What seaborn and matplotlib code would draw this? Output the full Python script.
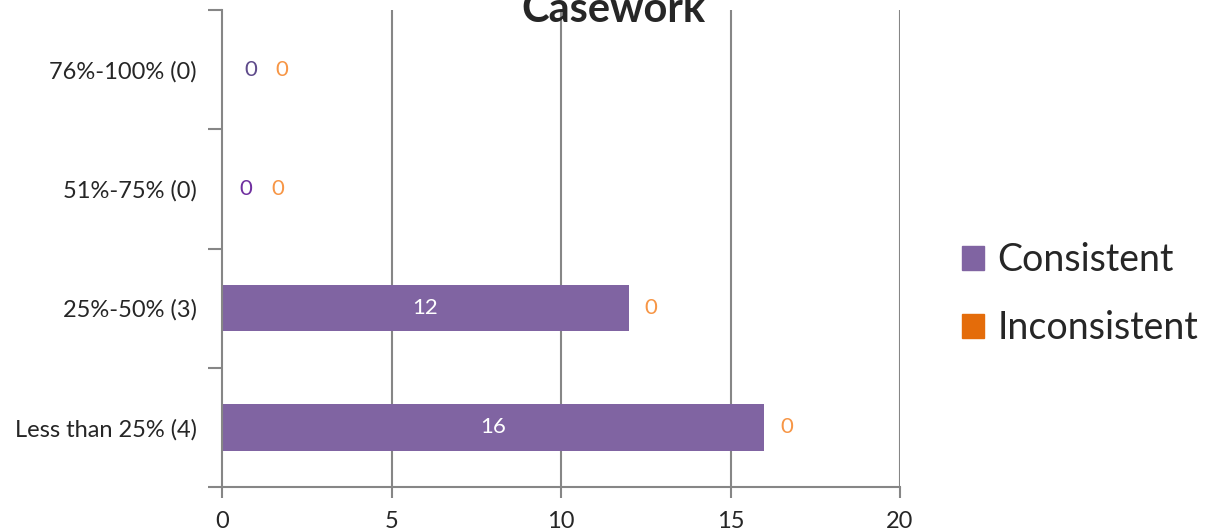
"""Casework - barres horizontales empilees (Consistent / Inconsistent)."""
import matplotlib
matplotlib.use("Agg")
import matplotlib.pyplot as plt
import seaborn as sns
import pandas as pd
from matplotlib.patches import Patch

categories = ["76%-100% (0)", "51%-75% (0)", "25%-50% (3)", "Less than 25% (4)"]
consistent = [0, 0, 12, 16]
inconsistent = [0, 0, 0, 0]
xticks = [0, 5, 10, 15, 20]
title = "Casework"

PURPLE = "#8064a2"
ORANGE = "#e46c0a"
GRID = "#868686"

sns.set_theme(style="white")
plt.rcParams["font.family"] = ["Lato", "DejaVu Sans"]

df = pd.DataFrame({"cat": categories, "Consistent": consistent,
                   "Inconsistent": inconsistent})
df["total"] = df["Consistent"] + df["Inconsistent"]

fig = plt.figure(figsize=(12.15, 5.31), dpi=100)
ax = fig.add_axes([222 / 1215, 1 - 487 / 531, (900 - 222) / 1215, (487 - 10) / 531])

# Inconsistent empile par-dessus Consistent (valeurs nulles ici)
sns.barplot(data=df, x="total", y="cat", color=ORANGE, width=0.39,
            orient="h", ax=ax, saturation=1, zorder=3, linewidth=0)
sns.barplot(data=df, x="Consistent", y="cat", color=PURPLE, width=0.39,
            orient="h", ax=ax, saturation=1, zorder=4, linewidth=0)

ax.set_xlim(0, 20)
ax.set_ylim(3.5, -0.5)
ax.set_xticks(xticks)
ax.set_xlabel(""); ax.set_ylabel("")
for x in xticks[1:]:
    ax.axvline(x, color=GRID, lw=1.5, zorder=1)

for s in ["top", "right"]:
    ax.spines[s].set_visible(False)
for s in ["left", "bottom"]:
    ax.spines[s].set_color(GRID)
    ax.spines[s].set_linewidth(1.5)
    ax.spines[s].set_zorder(6)

ax.tick_params(axis="x", direction="out", length=8, width=1.5, color=GRID,
               labelsize=17, pad=9, bottom=True)
ax.tick_params(axis="y", which="major", length=0, labelsize=17, pad=18)
ax.set_yticks([i - 0.5 for i in range(len(categories) + 1)], minor=True)
ax.tick_params(axis="y", which="minor", direction="out", length=10, width=1.5,
               color=GRID, left=True)

# etiquettes de donnees
zero_c = ["#5f4b8b", "#7030a0"]
for i, (c, t) in enumerate(zip(df["Consistent"], df["total"])):
    if c > 0:
        ax.text(c / 2, i, f"{c}", color="white", ha="center", va="center",
                fontsize=16, zorder=5)
        ax.text(t + 0.65, i, f"{df['Inconsistent'][i]}", color="#f79646",
                ha="center", va="center", fontsize=16, zorder=5)
    else:
        ax.text(0.85 - 0.15 * i, i, "0", color=zero_c[i], ha="center",
                va="center", fontsize=16, zorder=5)
        ax.text(1.75 - 0.1 * i, i, "0", color="#f79646", ha="center",
                va="center", fontsize=16, zorder=5)

fig.text(613 / 1215, 1 - 22 / 531, title, ha="center", va="baseline",
         fontsize=30, fontweight="bold")

handles = [Patch(color=PURPLE, label="Consistent"),
           Patch(color=ORANGE, label="Inconsistent")]
fig.legend(handles=handles, loc="center left", bbox_to_anchor=(928 / 1215, 1 - 294 / 531),
           frameon=False, fontsize=27, handlelength=0.6, handleheight=0.6,
           handletextpad=0.35, labelspacing=0.85)

fig.savefig("out.png", dpi=100)
